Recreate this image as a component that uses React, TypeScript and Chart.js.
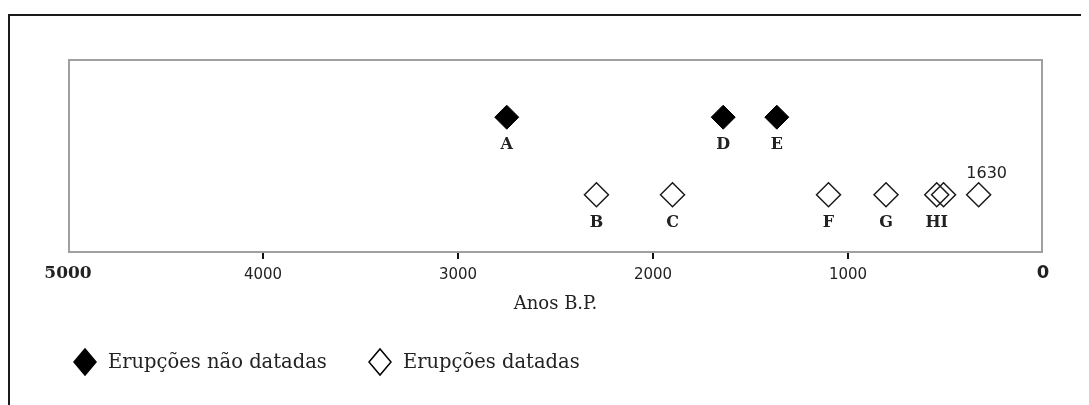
import React, { useEffect, useRef } from "react";
import { Chart, registerables } from "chart.js";

Chart.register(...registerables);

// Data: years before present (B.P.)
const undatedNames = ["A", "D", "E"];
const undatedYears = [2750, 1640, 1365];
const undatedRow = 0.7;

const datedNames = ["B", "C", "F", "G", "HI", "", "1630"];
const datedYears = [2290, 1900, 1100, 805, 545, 510, 330];
const datedRow = 0.3;

const aboveLabels = ["1630"];

const tickValues = [5000, 4000, 3000, 2000, 1000, 0];
const axisTitle = "Anos B.P.";
const seriesNames = ["Erupções não datadas", "Erupções datadas"];

const SERIF = "'DejaVu Serif', 'Liberation Serif', serif";
const SANS = "'DejaVu Sans', 'Liberation Sans', sans-serif";

const framePlugin = {
  id: "frame",
  beforeDraw(chart: any) {
    const { ctx, width, height, chartArea } = chart;
    ctx.save();
    ctx.fillStyle = "#ffffff";
    ctx.fillRect(0, 0, width, height);
    ctx.fillStyle = "#1a1a1a";
    ctx.fillRect(0, 6, width, 2);
    ctx.fillRect(0, 6, 2, height);
    ctx.strokeStyle = "#a0a0a0";
    ctx.lineWidth = 2;
    ctx.strokeRect(
      chartArea.left + 1,
      chartArea.top + 1,
      chartArea.right - chartArea.left - 2,
      chartArea.bottom - chartArea.top - 2
    );
    ctx.restore();
  },
};

const labelsPlugin = {
  id: "pointNames",
  afterDatasetsDraw(chart: any) {
    const { ctx } = chart;
    ctx.save();
    chart.data.datasets.forEach((ds: any, i: number) => {
      const meta = chart.getDatasetMeta(i);
      meta.data.forEach((pt: any, j: number) => {
        const name = ds.pointNames[j];
        if (!name) return;
        ctx.fillStyle = "#222";
        ctx.textAlign = "center";
        ctx.textBaseline = "middle";
        if (aboveLabels.includes(name)) {
          ctx.font = "16px " + SANS;
          ctx.fillText(name, pt.x + 8, pt.y - 21);
        } else {
          ctx.font = "bold 16px " + SERIF;
          ctx.fillText(name, pt.x, pt.y + 28);
        }
      });
    });
    ctx.restore();
  },
};

const legendPlugin = {
  id: "customLegend",
  afterDraw(chart: any) {
    const { ctx } = chart;
    const y = 354;
    const items = [
      { x: 77, fill: "#000000" },
      { x: 372, fill: "#ffffff" },
    ];
    ctx.save();
    items.forEach((it, i) => {
      const ds = chart.data.datasets[i];
      ctx.beginPath();
      ctx.moveTo(it.x - 11, y);
      ctx.lineTo(it.x, y - 13);
      ctx.lineTo(it.x + 11, y);
      ctx.lineTo(it.x, y + 13);
      ctx.closePath();
      ctx.fillStyle = it.fill;
      ctx.fill();
      ctx.lineWidth = 1.5;
      ctx.strokeStyle = "#000";
      ctx.stroke();
      ctx.font = "19.5px " + SERIF;
      ctx.fillStyle = "#222";
      ctx.textAlign = "left";
      ctx.textBaseline = "middle";
      ctx.fillText(ds.label, it.x + 23, y + 1);
    });
    ctx.restore();
  },
};

export default function App() {
  const ref = useRef<HTMLCanvasElement | null>(null);

  useEffect(() => {
    if (!ref.current) return;
    const chart = new Chart(ref.current, {
      type: "scatter",
      data: {
        datasets: [
          {
            label: seriesNames[0],
            data: undatedYears.map((x) => ({ x, y: undatedRow })),
            pointNames: undatedNames,
            pointStyle: "rectRot",
            pointRadius: 12,
            pointHoverRadius: 12,
            backgroundColor: "#000000",
            borderColor: "#000000",
            borderWidth: 1,
          } as any,
          {
            label: seriesNames[1],
            data: datedYears.map((x) => ({ x, y: datedRow })),
            pointNames: datedNames,
            pointStyle: "rectRot",
            pointRadius: 12,
            pointHoverRadius: 12,
            backgroundColor: "rgba(255,255,255,0)",
            borderColor: "#1a1a1a",
            borderWidth: 1.5,
          } as any,
        ],
      },
      options: {
        animation: false,
        responsive: false,
        layout: { padding: { left: 60, right: 38, top: 51, bottom: 90 } },
        plugins: {
          legend: { display: false },
          tooltip: { enabled: false },
        },
        scales: {
          x: {
            type: "linear",
            min: 0,
            max: 5000,
            reverse: true,
            afterBuildTicks: (scale: any) => {
              scale.ticks = tickValues.map((value) => ({ value }));
            },
            afterFit: (scale: any) => {
              scale.height = 62;
            },
            border: { display: false },
            grid: {
              drawOnChartArea: false,
              drawTicks: true,
              tickLength: 6,
              lineWidth: 2,
              color: (c: any) =>
                c.tick && (c.tick.value === 0 || c.tick.value === 5000)
                  ? "rgba(0,0,0,0)"
                  : "#111",
            },
            ticks: {
              padding: 14,
              color: "#222",
              maxRotation: 0,
              autoSkip: false,
              crossAlign: "center",
              font: (c: any) => {
                if (c.tick && c.tick.value === 5000)
                  return { family: SERIF, size: 17, weight: "bold" };
                if (c.tick && c.tick.value === 0)
                  return { family: SANS, size: 18, weight: "bold" };
                return { family: SANS, size: 15 };
              },
              callback: (v: any) => String(v),
            },
            title: {
              display: true,
              text: axisTitle,
              color: "#222",
              font: { family: SERIF, size: 18 },
              padding: { top: 0, bottom: 0 },
            },
          },
          y: {
            display: false,
            min: 0,
            max: 1,
          },
        },
      } as any,
      plugins: [framePlugin, labelsPlugin, legendPlugin],
    });
    return () => chart.destroy();
  }, []);

  return (
    <div style={{ width: 1073, height: 397 }}>
      <canvas ref={ref} width={1073} height={397} style={{ display: "block" }} />
    </div>
  );
}
